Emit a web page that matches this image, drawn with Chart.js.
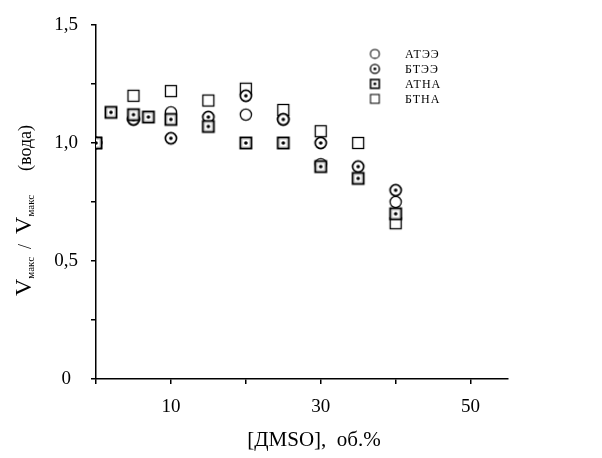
<!DOCTYPE html>
<html>
<head>
<meta charset="utf-8">
<script src="https://cdn.jsdelivr.net/npm/chart.js@4"></script>
<style>
  html, body { margin: 0; padding: 0; background: #fff; }
  #wrap { width: 602px; height: 458px; }
</style>
</head>
<body>
<div id="wrap"><canvas id="chart" width="602" height="458"></canvas></div>
<script>
// Data
const seriesNames = ['АТЭЭ', 'БТЭЭ', 'АТНА', 'БТНА'];

const xAtee = [0, 5, 10, 20, 25, 30, 40];
const yAtee = [1.0, 1.10, 1.13, 1.12, 1.10, 0.91, 0.75];

const xBtee = [0, 5, 10, 15, 20, 25, 30, 35, 40];
const yBtee = [1.0, 1.10, 1.02, 1.11, 1.20, 1.10, 1.00, 0.90, 0.80];

const xAtna = [0, 2, 5, 7, 10, 15, 20, 25, 30, 35, 40];
const yAtna = [1.0, 1.13, 1.12, 1.11, 1.10, 1.07, 1.00, 1.00, 0.90, 0.85, 0.70];

const xBtna = [0, 5, 10, 15, 20, 25, 30, 35, 40];
const yBtna = [1.0, 1.20, 1.22, 1.18, 1.23, 1.14, 1.05, 1.00, 0.66];

const xTickValues = [0, 10, 20, 30, 40, 50];
const xTickLabels = ['', '10', '', '30', '', '50'];
const yTickValues = [0, 0.25, 0.5, 0.75, 1.0, 1.25, 1.5];
const yTickLabels = ['0', '', '0,5', '', '1,0', '', '1,5'];

const xTitle = '[ДMSO],  об.%';

const SERIF = '"Liberation Serif", "DejaVu Serif", serif';

// Build marker images (circle, dotted circle, dotted square, square)
function makeMarker(kind, s) {
    const c = document.createElement('canvas');
    const n = Math.round(16 * s);
    c.width = n; c.height = n;
    const g = c.getContext('2d');
    g.scale(s, s);
    g.fillStyle = '#fff';
    g.strokeStyle = '#000';
    if (kind === 'circle' || kind === 'circleDot') {
        g.beginPath();
        g.arc(8, 8, 5.6, 0, Math.PI * 2);
        g.fill();
        g.lineWidth = kind === 'circle' ? 1.3 : 1.7;
        g.stroke();
        if (kind === 'circleDot') {
            g.beginPath();
            g.arc(8, 8, 1.8, 0, Math.PI * 2);
            g.fillStyle = '#000';
            g.fill();
        }
    } else {
        g.fillRect(2.5, 2.5, 11, 11);
        g.lineWidth = kind === 'square' ? 1.3 : 1.9;
        g.strokeRect(2.5, 2.5, 11, 11);
        if (kind === 'squareDot') {
            g.strokeStyle = '#ccc';
            g.lineWidth = 0.8;
            g.strokeRect(4.3, 4.3, 7.4, 7.4);
            g.beginPath();
            g.arc(8, 8, 1.8, 0, Math.PI * 2);
            g.fillStyle = '#000';
            g.fill();
        }
    }
    return c;
}

const markerKinds = ['circle', 'circleDot', 'squareDot', 'square'];
const markers = markerKinds.map(k => makeMarker(k, 1));
const legendMarkers = markerKinds.map(k => makeMarker(k, 0.8));

function toPoints(xs, ys) {
    return xs.map((x, i) => ({ x: x, y: ys[i] }));
}

// Legend drawn by hand (Word-style legend box without frame)
const legendPlugin = {
    id: 'handLegend',
    afterDraw(chart) {
        const ctx = chart.ctx;
        ctx.save();
        ctx.font = '12px ' + SERIF;
        ctx.fillStyle = '#000';
        ctx.textBaseline = 'middle';
        ctx.letterSpacing = '1px';
        seriesNames.forEach((name, i) => {
            const y = 54 + i * 15;
            const m = legendMarkers[i];
            ctx.drawImage(m, 375 - m.width / 2, y - m.height / 2);
            ctx.fillText(name, 405, y + 1);
        });
        ctx.restore();
    }
};

// Y axis title with subscripts: [text, font size, gap before, baseline shift]
const yTitleParts = [
    ['V', 24, 0, 0],
    ['макс', 11, 0, 3],
    ['/', 18, 8, 0],
    ['V', 24, 10, 0],
    ['макс', 11, 0, 3],
    ['(вода)', 18, 24, 0]
];

const titlesPlugin = {
    id: 'axisTitles',
    afterDraw(chart) {
        const ctx = chart.ctx;
        // x title, slightly right of the axis centre as in the original
        ctx.save();
        ctx.fillStyle = '#000';
        ctx.font = '21px ' + SERIF;
        ctx.textAlign = 'center';
        ctx.textBaseline = 'middle';
        ctx.fillText(xTitle, 314, 440);
        ctx.restore();

        // y title, rotated, with subscripts
        ctx.save();
        ctx.rotate(-Math.PI / 2);
        ctx.fillStyle = '#000';
        ctx.textBaseline = 'alphabetic';
        let x = -296;
        yTitleParts.forEach(p => {
            ctx.font = p[1] + 'px ' + SERIF;
            x += p[2];
            ctx.fillText(p[0], x, 31 + p[3]);
            x += ctx.measureText(p[0]).width;
        });
        ctx.restore();
    }
};

const ctx = document.getElementById('chart').getContext('2d');

new Chart(ctx, {
    type: 'scatter',
    data: {
        datasets: [
            { label: seriesNames[0], data: toPoints(xAtee, yAtee), pointStyle: markers[0], order: 3 },
            { label: seriesNames[1], data: toPoints(xBtee, yBtee), pointStyle: markers[1], order: 2 },
            { label: seriesNames[2], data: toPoints(xAtna, yAtna), pointStyle: markers[2], order: 1 },
            { label: seriesNames[3], data: toPoints(xBtna, yBtna), pointStyle: markers[3], order: 4 }
        ]
    },
    options: {
        responsive: false,
        animation: false,
        layout: {
            padding: { top: 25, right: 94, bottom: 0, left: 0 }
        },
        plugins: {
            legend: { display: false },
            tooltip: { enabled: false }
        },
        scales: {
            x: {
                type: 'linear',
                min: 0,
                max: 55,
                afterBuildTicks: scale => {
                    scale.ticks = xTickValues.map(v => ({ value: v }));
                },
                afterFit: scale => { scale.height = 79; },
                ticks: {
                    autoSkip: false,
                    maxRotation: 0,
                    padding: 12,
                    color: '#000',
                    font: { family: SERIF, size: 19 },
                    callback: v => xTickLabels[xTickValues.indexOf(v)] || ''
                },
                grid: {
                    drawOnChartArea: false,
                    drawTicks: true,
                    tickLength: 5,
                    color: '#000',
                    lineWidth: 1.5
                },
                border: { display: true, color: '#000', width: 1.5 }
            },
            y: {
                type: 'linear',
                min: 0,
                max: 1.5,
                afterBuildTicks: scale => {
                    scale.ticks = yTickValues.map(v => ({ value: v }));
                },
                afterFit: scale => { scale.width = 96; },
                ticks: {
                    autoSkip: false,
                    padding: 13,
                    crossAlign: 'center',
                    color: '#000',
                    font: { family: SERIF, size: 19 },
                    callback: v => yTickLabels[yTickValues.indexOf(v)] || ''
                },
                grid: {
                    drawOnChartArea: false,
                    drawTicks: true,
                    tickLength: 5,
                    color: '#000',
                    lineWidth: 1.5
                },
                border: { display: true, color: '#000', width: 1.5 }
            }
        }
    },
    plugins: [legendPlugin, titlesPlugin]
});
</script>
</body>
</html>
